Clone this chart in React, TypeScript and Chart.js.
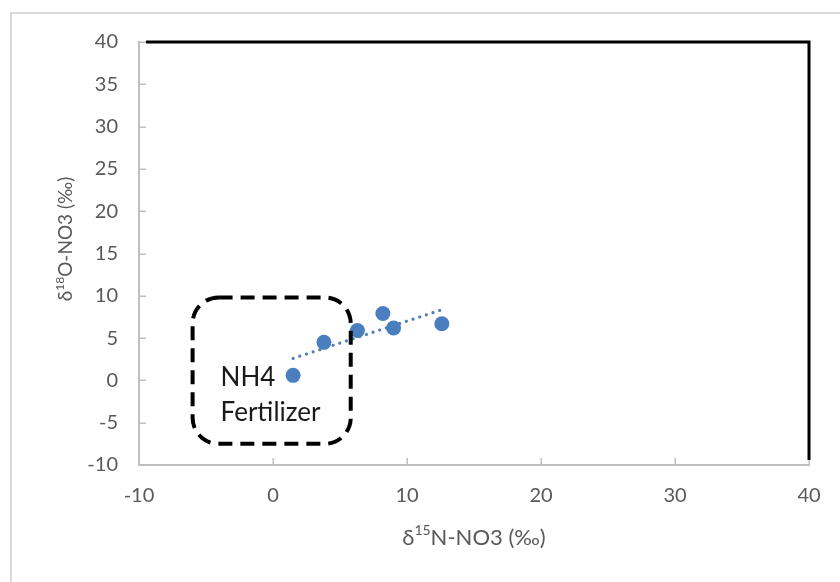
import React, { useEffect, useRef } from "react";
import { Chart, registerables } from "chart.js";

Chart.register(...registerables);

// Isotope samples: δ15N-NO3 (x) and δ18O-NO3 (y), in ‰
const sampleN15 = [1.5, 3.8, 6.3, 8.2, 9.0, 12.6];
const sampleO18 = [0.6, 4.5, 5.9, 7.9, 6.2, 6.7];

// Linear trend line end points
const trendN15 = [1.5, 12.5];
const trendO18 = [2.6, 8.3];

// Source field for NH4 fertilizer (x range, y range)
const fieldN15 = [-6.0, 5.8];
const fieldO18 = [-7.5, 9.8];
const fieldLabel = ["NH4", "Fertilizer"];

// Axis settings
const xRange = [-10, 40];
const yRange = [-10, 40];
const xStep = 10;
const yStep = 5;

const BLUE = "#4a7ebf";
const AXIS_GRAY = "#bfbfbf";
const TEXT_GRAY = "#595959";
const FONT = "Lato, 'Open Sans', sans-serif";

type Part = { t: string; sup?: boolean };

function drawRich(ctx: CanvasRenderingContext2D, parts: Part[], size: number, cx: number, cy: number) {
  const supSize = Math.round(size * 0.62);
  let total = 0;
  for (const p of parts) {
    ctx.font = `${p.sup ? supSize : size}px ${FONT}`;
    total += ctx.measureText(p.t).width;
  }
  let x = cx - total / 2;
  ctx.textBaseline = "middle";
  ctx.textAlign = "left";
  for (const p of parts) {
    ctx.font = `${p.sup ? supSize : size}px ${FONT}`;
    ctx.fillText(p.t, x, p.sup ? cy - size * 0.32 : cy);
    x += ctx.measureText(p.t).width;
  }
}

const decorPlugin = {
  id: "decor",
  beforeDraw(chart: any) {
    const { ctx, width, height } = chart;
    ctx.save();
    ctx.fillStyle = "#ffffff";
    ctx.fillRect(0, 0, width, height);
    // outer chart frame
    ctx.strokeStyle = "#d9d9d9";
    ctx.lineWidth = 2;
    ctx.beginPath();
    ctx.moveTo(11, height + 2);
    ctx.lineTo(11, 13);
    ctx.lineTo(width + 2, 13);
    ctx.stroke();
    ctx.restore();
  },
  afterDatasetsDraw(chart: any) {
    const { ctx, chartArea, scales } = chart;
    const xs = scales.x;
    const ys = scales.y;
    ctx.save();

    // inner tick marks
    ctx.strokeStyle = AXIS_GRAY;
    ctx.lineWidth = 1.5;
    ctx.beginPath();
    for (let v = yRange[0]; v <= yRange[1]; v += yStep) {
      const py = Math.round(ys.getPixelForValue(v)) + 0.25;
      ctx.moveTo(chartArea.left, py);
      ctx.lineTo(chartArea.left + 7, py);
    }
    for (let v = xRange[0]; v <= xRange[1]; v += xStep) {
      const px = Math.round(xs.getPixelForValue(v)) + 0.25;
      ctx.moveTo(px, chartArea.bottom);
      ctx.lineTo(px, chartArea.bottom - 7);
    }
    ctx.stroke();

    // black top and right frame
    ctx.strokeStyle = "#000000";
    ctx.lineWidth = 3;
    ctx.lineCap = "butt";
    ctx.beginPath();
    ctx.moveTo(chartArea.left + 7, chartArea.top);
    ctx.lineTo(chartArea.right, chartArea.top);
    ctx.moveTo(chartArea.right, chartArea.top - 1.5);
    ctx.lineTo(chartArea.right, chartArea.bottom - 5);
    ctx.stroke();

    // fertilizer source field
    const l = xs.getPixelForValue(fieldN15[0]);
    const r = xs.getPixelForValue(fieldN15[1]);
    const t = ys.getPixelForValue(fieldO18[1]);
    const b = ys.getPixelForValue(fieldO18[0]);
    ctx.strokeStyle = "#000000";
    ctx.lineWidth = 4;
    ctx.setLineDash([14, 8]);
    ctx.beginPath();
    ctx.roundRect(l, t, r - l, b - t, 26);
    ctx.stroke();
    ctx.setLineDash([]);

    ctx.fillStyle = "#1a1a1a";
    ctx.font = `26px ${FONT}`;
    ctx.textAlign = "left";
    ctx.textBaseline = "alphabetic";
    ctx.fillText(fieldLabel[0], l + 28, t + 89);
    ctx.fillText(fieldLabel[1], l + 28, t + 124);

    ctx.restore();
  },
  afterDraw(chart: any) {
    const { ctx, chartArea } = chart;
    ctx.save();
    ctx.fillStyle = TEXT_GRAY;
    // x axis title
    drawRich(
      ctx,
      [{ t: "δ" }, { t: "15", sup: true }, { t: "N-NO3 (‰)" }],
      22,
      (chartArea.left + chartArea.right) / 2,
      538
    );
    // y axis title
    ctx.translate(66, 239);
    ctx.rotate(-Math.PI / 2);
    drawRich(ctx, [{ t: "δ" }, { t: "18", sup: true }, { t: "O-NO3 (‰)" }], 19, 0, 0);
    ctx.restore();
  },
};

export default function App() {
  const canvasRef = useRef<HTMLCanvasElement | null>(null);

  useEffect(() => {
    const canvas = canvasRef.current;
    if (!canvas) return;
    const chart = new Chart(canvas, {
      type: "scatter",
      data: {
        datasets: [
          {
            label: "Samples",
            data: sampleN15.map((x, i) => ({ x, y: sampleO18[i] })),
            backgroundColor: BLUE,
            borderColor: BLUE,
            pointRadius: 7.5,
            pointBorderWidth: 0,
            order: 1,
          },
          {
            label: "Linear trend",
            data: trendN15.map((x, i) => ({ x, y: trendO18[i] })),
            showLine: true,
            borderColor: BLUE,
            borderWidth: 3.2,
            borderDash: [0.01, 7],
            borderCapStyle: "round",
            pointRadius: 0,
            order: 2,
          },
        ],
      },
      options: {
        responsive: false,
        animation: false,
        devicePixelRatio: 1,
        layout: { padding: { left: 0, top: 42, right: 31, bottom: 0 } },
        plugins: {
          legend: { display: false },
          tooltip: { enabled: false },
        },
        scales: {
          x: {
            type: "linear",
            min: xRange[0],
            max: xRange[1],
            ticks: {
              stepSize: xStep,
              color: TEXT_GRAY,
              font: { family: FONT, size: 20 },
              padding: 19,
            },
            grid: { display: true, drawOnChartArea: false, drawTicks: false },
            border: { display: true, color: AXIS_GRAY, width: 2 },
            afterFit: (s: any) => {
              s.height = 117;
            },
          },
          y: {
            type: "linear",
            min: yRange[0],
            max: yRange[1],
            ticks: {
              stepSize: yStep,
              color: TEXT_GRAY,
              font: { family: FONT, size: 20 },
              padding: 21,
            },
            grid: { display: true, drawOnChartArea: false, drawTicks: false },
            border: { display: true, color: AXIS_GRAY, width: 2 },
            afterFit: (s: any) => {
              s.width = 139;
            },
          },
        },
      },
      plugins: [decorPlugin],
    } as any);
    return () => chart.destroy();
  }, []);

  return (
    <div style={{ position: "fixed", left: 0, top: 0, width: 840, height: 582, background: "#fff" }}>
      <canvas ref={canvasRef} width={840} height={582} style={{ display: "block" }} />
    </div>
  );
}
